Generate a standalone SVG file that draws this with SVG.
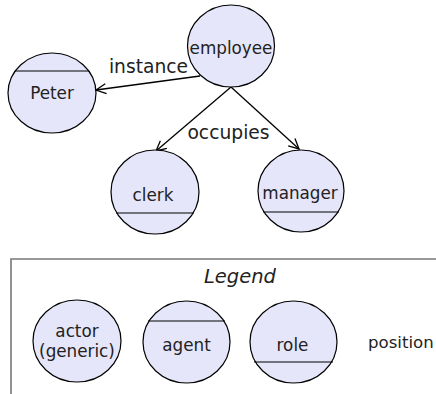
<svg xmlns="http://www.w3.org/2000/svg" width="436" height="394" viewBox="0 0 436 394">
<style>
.n{fill:#e6e6fa;stroke:#000;stroke-width:1.2}
.d{stroke:#000;stroke-width:1.2;fill:none}
.c{stroke:#000;stroke-width:1.3;fill:none}
text{font-family:"DejaVu Sans",Verdana,sans-serif;fill:#222}
.t{font-size:16.8px;text-anchor:middle}
.e{font-size:18.7px;text-anchor:middle}
</style>
<defs>
<marker id="a" viewBox="0 0 12 12" refX="11" refY="6" markerWidth="12" markerHeight="12" markerUnits="userSpaceOnUse" orient="auto">
<path d="M1,1 L11,6 L1,11" fill="none" stroke="#000" stroke-width="1.3"/>
</marker>
</defs>
<g id="connectors">
<path class="c" d="M200,76 L96,90" marker-end="url(#a)"/>
<path class="c" d="M231,87 L156,151" marker-end="url(#a)"/>
<path class="c" d="M231,87 L299,149" marker-end="url(#a)"/>
<text class="e" x="148.5" y="72.5">instance</text>
<text class="e" x="228.5" y="139">occupies</text>
</g>
<g id="employee">
<ellipse class="n" cx="231" cy="46" rx="43.5" ry="41"/>
<text class="t" x="231" y="53.5">employee</text>
</g>
<g id="peter">
<ellipse class="n" cx="52" cy="93" rx="44" ry="40"/>
<line class="d" x1="15" y1="71" x2="89" y2="71"/>
<text class="t" x="52" y="99">Peter</text>
</g>
<g id="clerk">
<ellipse class="n" cx="155" cy="192" rx="44" ry="42"/>
<line class="d" x1="116" y1="213" x2="194" y2="213"/>
<text class="t" x="153" y="201">clerk</text>
</g>
<g id="manager">
<ellipse class="n" cx="301" cy="191" rx="43" ry="41"/>
<line class="d" x1="263" y1="212" x2="339" y2="212"/>
<text class="t" x="300" y="199">manager</text>
</g>
<g id="legend">
<path d="M11,394 L11,259 L436,259" fill="none" stroke="#777" stroke-width="1.6"/>
<text class="e" x="240" y="283" font-style="italic" style="font-size:19.5px">Legend</text>
<g id="legend-actor">
<ellipse class="n" cx="77" cy="341" rx="44" ry="41"/>
<text class="t" x="77" y="336.5">actor</text>
<text class="t" x="77" y="356.5">(generic)</text>
</g>
<g id="legend-agent">
<ellipse class="n" cx="186.5" cy="342" rx="43.5" ry="41"/>
<line class="d" x1="148" y1="321" x2="225" y2="321"/>
<text class="t" x="186.5" y="350.5">agent</text>
</g>
<g id="legend-role">
<ellipse class="n" cx="293.5" cy="342" rx="43.5" ry="41"/>
<line class="d" x1="254" y1="362" x2="333" y2="362"/>
<text class="t" x="292.5" y="350.5">role</text>
</g>
<text x="368" y="347.5" style="font-size:16.6px">position</text>
</g>
</svg>
